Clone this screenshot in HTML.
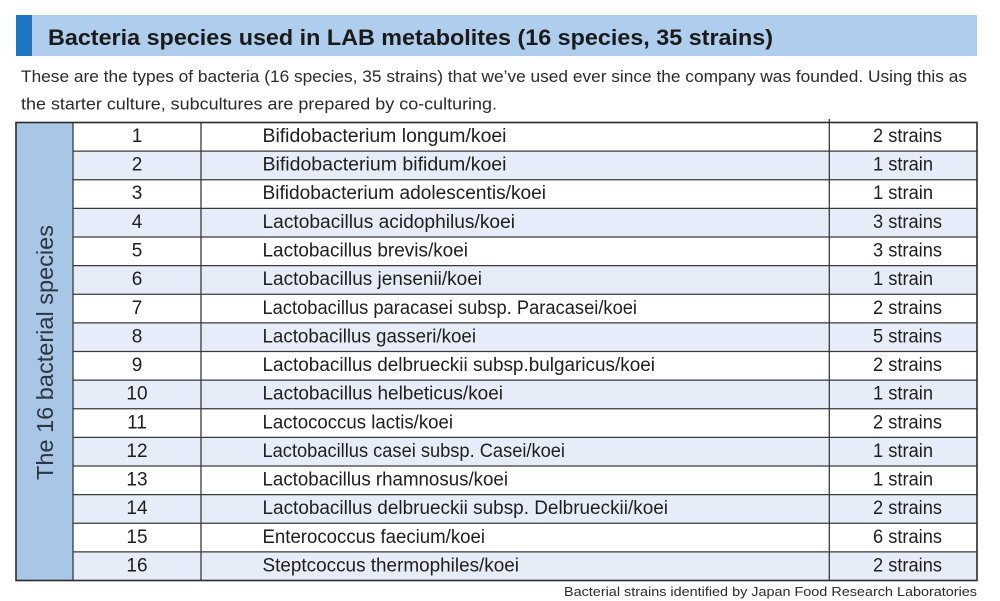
<!DOCTYPE html>
<html>
<head>
<meta charset="utf-8">
<style>
  html,body{margin:0;padding:0;background:#fff;}
  svg{display:block;}
  text{font-family:"Liberation Sans", sans-serif;}
</style>
</head>
<body>
<svg width="1000" height="601" viewBox="0 0 1000 601" xmlns="http://www.w3.org/2000/svg">
  <rect x="0" y="0" width="1000" height="601" fill="#ffffff"/>
  <!-- title bar -->
  <rect x="16" y="15" width="961" height="41" fill="#afcdec"/>
  <rect x="16" y="15" width="16" height="41" fill="#1f77c1"/>
  <text x="48" y="45" font-size="22" font-weight="bold" fill="#1a1a1a" textLength="725" lengthAdjust="spacingAndGlyphs">Bacteria species used in LAB metabolites (16 species, 35 strains)</text>

  <!-- intro text -->
  <text x="21" y="82" font-size="16.5" fill="#2a2a2a" textLength="946" lengthAdjust="spacingAndGlyphs">These are the types of bacteria (16 species, 35 strains) that we’ve used ever since the company was founded. Using this as</text>
  <text x="21" y="109.5" font-size="16.5" fill="#2a2a2a" textLength="476" lengthAdjust="spacingAndGlyphs">the starter culture, subcultures are prepared by co-culturing.</text>

  <!-- table backgrounds -->
  <rect x="16" y="122.5" width="57" height="458" fill="#a8c7e6"/>
  <g fill="#e7edf8">
    <rect x="73" y="151.125" width="904" height="28.625"/>
    <rect x="73" y="208.375" width="904" height="28.625"/>
    <rect x="73" y="265.625" width="904" height="28.625"/>
    <rect x="73" y="322.875" width="904" height="28.625"/>
    <rect x="73" y="380.125" width="904" height="28.625"/>
    <rect x="73" y="437.375" width="904" height="28.625"/>
    <rect x="73" y="494.625" width="904" height="28.625"/>
    <rect x="73" y="551.875" width="904" height="28.625"/>
  </g>

  <!-- row lines -->
  <g stroke="#3a3a3a" stroke-width="1.3">
    <line x1="73" y1="151.125" x2="977" y2="151.125"/>
    <line x1="73" y1="179.75" x2="977" y2="179.75"/>
    <line x1="73" y1="208.375" x2="977" y2="208.375"/>
    <line x1="73" y1="237" x2="977" y2="237"/>
    <line x1="73" y1="265.625" x2="977" y2="265.625"/>
    <line x1="73" y1="294.25" x2="977" y2="294.25"/>
    <line x1="73" y1="322.875" x2="977" y2="322.875"/>
    <line x1="73" y1="351.5" x2="977" y2="351.5"/>
    <line x1="73" y1="380.125" x2="977" y2="380.125"/>
    <line x1="73" y1="408.75" x2="977" y2="408.75"/>
    <line x1="73" y1="437.375" x2="977" y2="437.375"/>
    <line x1="73" y1="466" x2="977" y2="466"/>
    <line x1="73" y1="494.625" x2="977" y2="494.625"/>
    <line x1="73" y1="523.25" x2="977" y2="523.25"/>
    <line x1="73" y1="551.875" x2="977" y2="551.875"/>
    <!-- vertical lines -->
    <line x1="73" y1="122.5" x2="73" y2="580.5"/>
    <line x1="201" y1="122.5" x2="201" y2="580.5"/>
    <line x1="829.3" y1="119" x2="829.3" y2="580.5"/>
  </g>
  <rect x="16" y="122.5" width="961" height="458" fill="none" stroke="#2a2a2a" stroke-width="1.6"/>

  <!-- vertical label -->
  <text transform="translate(53,352.5) rotate(-90)" x="0" y="0" text-anchor="middle" font-size="23" fill="#2e3440" textLength="255" lengthAdjust="spacingAndGlyphs">The 16 bacterial species</text>

  <!-- numbers -->
  <g font-size="19" fill="#1e1e1e" text-anchor="middle">
    <text x="137" y="142">1</text>
    <text x="137" y="170.6">2</text>
    <text x="137" y="199.2">3</text>
    <text x="137" y="227.9">4</text>
    <text x="137" y="256.5">5</text>
    <text x="137" y="285.1">6</text>
    <text x="137" y="313.8">7</text>
    <text x="137" y="342.4">8</text>
    <text x="137" y="371">9</text>
    <text x="137" y="399.6">10</text>
    <text x="137" y="428.3">11</text>
    <text x="137" y="456.9">12</text>
    <text x="137" y="485.5">13</text>
    <text x="137" y="514.1">14</text>
    <text x="137" y="542.8">15</text>
    <text x="137" y="571.4">16</text>
  </g>

  <!-- names -->
  <g font-size="19" fill="#1e1e1e">
    <text x="262.5" y="142" textLength="244" lengthAdjust="spacingAndGlyphs">Bifidobacterium longum/koei</text>
    <text x="262.5" y="170.6" textLength="244" lengthAdjust="spacingAndGlyphs">Bifidobacterium bifidum/koei</text>
    <text x="262.5" y="199.2" textLength="283.5" lengthAdjust="spacingAndGlyphs">Bifidobacterium adolescentis/koei</text>
    <text x="262.5" y="227.9" textLength="252.5" lengthAdjust="spacingAndGlyphs">Lactobacillus acidophilus/koei</text>
    <text x="262.5" y="256.5" textLength="205.5" lengthAdjust="spacingAndGlyphs">Lactobacillus brevis/koei</text>
    <text x="262.5" y="285.1" textLength="219.5" lengthAdjust="spacingAndGlyphs">Lactobacillus jensenii/koei</text>
    <text x="262.5" y="313.8" textLength="374.5" lengthAdjust="spacingAndGlyphs">Lactobacillus paracasei subsp. Paracasei/koei</text>
    <text x="262.5" y="342.4" textLength="213.5" lengthAdjust="spacingAndGlyphs">Lactobacillus gasseri/koei</text>
    <text x="262.5" y="371" textLength="392.5" lengthAdjust="spacingAndGlyphs">Lactobacillus delbrueckii subsp.bulgaricus/koei</text>
    <text x="262.5" y="399.6" textLength="240.5" lengthAdjust="spacingAndGlyphs">Lactobacillus helbeticus/koei</text>
    <text x="262.5" y="428.3" textLength="190.5" lengthAdjust="spacingAndGlyphs">Lactococcus lactis/koei</text>
    <text x="262.5" y="456.9" textLength="302.5" lengthAdjust="spacingAndGlyphs">Lactobacillus casei subsp. Casei/koei</text>
    <text x="262.5" y="485.5" textLength="245.5" lengthAdjust="spacingAndGlyphs">Lactobacillus rhamnosus/koei</text>
    <text x="262.5" y="514.1" textLength="405.5" lengthAdjust="spacingAndGlyphs">Lactobacillus delbrueckii subsp. Delbrueckii/koei</text>
    <text x="262.5" y="542.8" textLength="222.5" lengthAdjust="spacingAndGlyphs">Enterococcus faecium/koei</text>
    <text x="262.5" y="571.4" textLength="256.5" lengthAdjust="spacingAndGlyphs">Steptcoccus thermophiles/koei</text>
  </g>

  <!-- strains -->
  <g font-size="19" fill="#1e1e1e">
    <text x="873" y="142" textLength="69" lengthAdjust="spacingAndGlyphs">2 strains</text>
    <text x="873" y="170.6" textLength="60" lengthAdjust="spacingAndGlyphs">1 strain</text>
    <text x="873" y="199.2" textLength="60" lengthAdjust="spacingAndGlyphs">1 strain</text>
    <text x="873" y="227.9" textLength="69" lengthAdjust="spacingAndGlyphs">3 strains</text>
    <text x="873" y="256.5" textLength="69" lengthAdjust="spacingAndGlyphs">3 strains</text>
    <text x="873" y="285.1" textLength="60" lengthAdjust="spacingAndGlyphs">1 strain</text>
    <text x="873" y="313.8" textLength="69" lengthAdjust="spacingAndGlyphs">2 strains</text>
    <text x="873" y="342.4" textLength="69" lengthAdjust="spacingAndGlyphs">5 strains</text>
    <text x="873" y="371" textLength="69" lengthAdjust="spacingAndGlyphs">2 strains</text>
    <text x="873" y="399.6" textLength="60" lengthAdjust="spacingAndGlyphs">1 strain</text>
    <text x="873" y="428.3" textLength="69" lengthAdjust="spacingAndGlyphs">2 strains</text>
    <text x="873" y="456.9" textLength="60" lengthAdjust="spacingAndGlyphs">1 strain</text>
    <text x="873" y="485.5" textLength="60" lengthAdjust="spacingAndGlyphs">1 strain</text>
    <text x="873" y="514.1" textLength="69" lengthAdjust="spacingAndGlyphs">2 strains</text>
    <text x="873" y="542.8" textLength="69" lengthAdjust="spacingAndGlyphs">6 strains</text>
    <text x="873" y="571.4" textLength="69" lengthAdjust="spacingAndGlyphs">2 strains</text>
  </g>

  <!-- footnote -->
  <text x="564" y="596" font-size="12.5" fill="#2a2a2a" textLength="413" lengthAdjust="spacingAndGlyphs">Bacterial strains identified by Japan Food Research Laboratories</text>
</svg>
</body>
</html>
